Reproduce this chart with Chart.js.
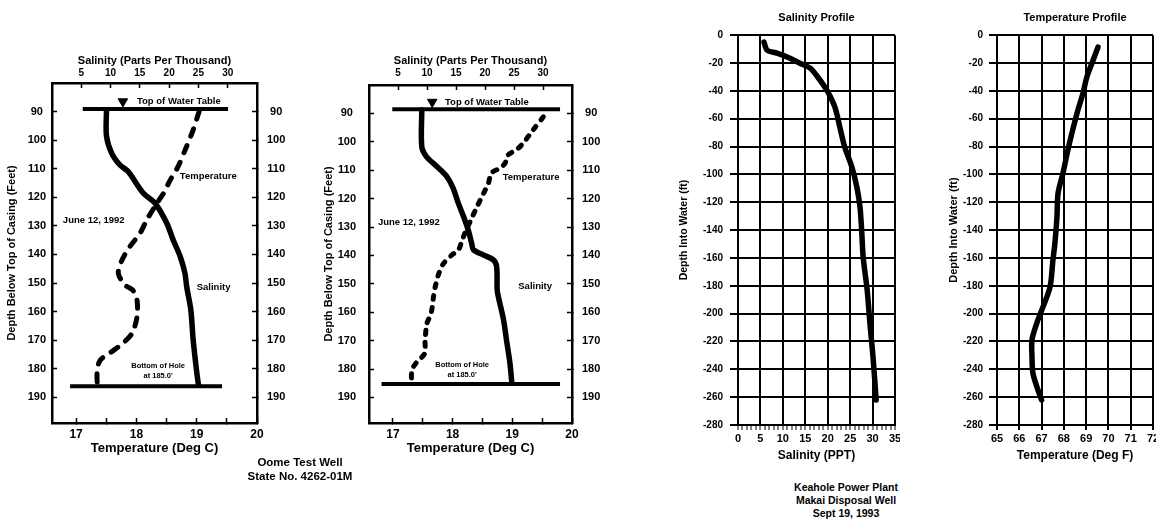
<!DOCTYPE html>
<html><head><meta charset="utf-8">
<script src="https://cdn.jsdelivr.net/npm/chart.js@4.4.1/dist/chart.umd.min.js"></script>
<style>
html,body{margin:0;padding:0;background:#fff;}
body{width:1156px;height:522px;overflow:hidden;position:relative;font-family:"Liberation Sans",Arial,sans-serif;}
canvas{position:absolute;}
.cap{position:absolute;font-weight:bold;color:#000;text-align:center;transform:translateX(-50%);white-space:nowrap;}
</style></head><body>
<canvas id="c1" width="300" height="430" style="left:0px;top:30px"></canvas>
<canvas id="c2" width="300" height="430" style="left:317px;top:30px"></canvas>
<canvas id="c3" width="240" height="475" style="left:660px;top:0px"></canvas>
<canvas id="c4" width="236" height="475" style="left:920px;top:0px"></canvas>
<div class="cap" style="left:300px;top:455px;font-size:11.5px;line-height:14px">Oome Test Well<br>State No. 4262-01M</div>
<div class="cap" style="left:846px;top:481px;font-size:10.5px;line-height:13px">Keahole Power Plant<br>Makai Disposal Well<br>Sept 19, 1993</div>
<script>
// ---------- tick labels ----------
const OOME_DEPTH_TICKS = [90, 100, 110, 120, 130, 140, 150, 160, 170, 180, 190];
const OOME_SAL_TICKS = [5, 10, 15, 20, 25, 30];
const OOME_TEMP_TICKS = [17, 17.5, 18, 18.5, 19, 19.5, 20];
const KEA_DEPTH_TICKS = [0, -20, -40, -60, -80, -100, -120, -140, -160, -180, -200, -220, -240, -260, -280];
const KEA_SAL_TICKS = Array.from({length: 36}, (_, i) => i);
const KEA_TEMP_TICKS = [65, 66, 67, 68, 69, 70, 71, 72];

// ---------- Oome Test Well, left profile ----------
const A_salDepth = [89.5, 98.5, 104.6, 108.7, 111.0, 118.6, 122.1, 129.1, 135.0, 140.8, 146.6, 151.3, 159.4, 169.9, 179.3, 185.7];
const A_sal      = [9.3, 9.3, 10.2, 11.6, 13.0, 15.6, 17.6, 19.6, 20.7, 21.9, 22.7, 23.0, 23.7, 24.1, 24.6, 25.0];
const A_tempDepth = [90.0, 96.5, 102.3, 109.3, 114.0, 118.6, 122.1, 128.0, 132.6, 137.3, 142.0, 146.6, 150.7, 152.5, 156.0, 161.8, 167.5, 171.0, 174.5, 177.0, 180.5, 185.7];
const A_temp      = [19.04, 18.94, 18.83, 18.69, 18.56, 18.45, 18.34, 18.17, 18.06, 17.89, 17.76, 17.70, 17.81, 17.94, 18.01, 18.01, 17.93, 17.78, 17.56, 17.40, 17.35, 17.35];
const A_waterTable = [89.1, 17.11, 19.52];   // depth, temp from, temp to
const A_holeBottom = [186.1, 16.90, 19.42];
const A_marker = [12.1, 86.5];               // salinity, depth

// ---------- Oome Test Well, right profile ----------
const B_salDepth = [88.8, 101.7, 105.2, 108.7, 112.2, 116.3, 121.6, 126.3, 131.0, 135.7, 138.0, 139.8, 141.5, 143.9, 152.1, 154.5, 162.7, 169.7, 177.9, 184.4];
const B_sal      = [9.1, 9.1, 9.9, 11.7, 13.4, 14.5, 15.4, 16.3, 17.1, 17.7, 18.0, 19.7, 21.4, 22.0, 22.1, 22.3, 23.2, 23.7, 24.3, 24.6];
const B_tempDepth = [91.2, 95.8, 100.5, 102.8, 104.6, 107.5, 109.3, 111.0, 114.6, 118.1, 122.8, 126.9, 130.5, 134.6, 138.0, 139.8, 142.8, 146.3, 151.0, 154.6, 160.4, 164.0, 169.9, 174.6, 177.5, 180.4, 184.5];
const B_temp      = [19.52, 19.35, 19.18, 19.07, 18.93, 18.88, 18.79, 18.65, 18.60, 18.52, 18.41, 18.32, 18.24, 18.16, 18.10, 17.99, 17.85, 17.77, 17.71, 17.68, 17.64, 17.57, 17.54, 17.53, 17.40, 17.32, 17.31];
const B_waterTable = [88.5, 16.99, 19.80];
const B_holeBottom = [185.3, 16.81, 19.80];
const B_marker = [10.9, 86.0];

// ---------- Keahole, salinity profile ----------
const K_salDepth = [-5.0, -10.8, -12.9, -16.5, -20.1, -23.7, -30.2, -39.5, -51.7, -66.0, -80.4, -94.8, -109.1, -123.5, -142.1, -159.4, -183.1, -206.7, -231.1, -262.0];
const K_sal      = [5.8, 6.5, 8.7, 11.6, 13.8, 16.1, 17.8, 19.8, 21.6, 22.7, 23.8, 25.4, 26.5, 27.2, 27.6, 27.9, 28.8, 29.4, 30.1, 30.8];
// ---------- Keahole, temperature profile ----------
const K_tempDepth = [-8.6, -20.1, -30.2, -41.6, -56.0, -70.4, -82.6, -99.1, -113.4, -130.7, -149.3, -161.5, -180.9, -195.3, -206.7, -218.9, -231.1, -242.6, -252.6, -262.0];
const K_temp      = [69.53, 69.26, 69.03, 68.86, 68.59, 68.36, 68.18, 67.96, 67.74, 67.69, 67.60, 67.51, 67.38, 67.06, 66.79, 66.57, 66.57, 66.61, 66.79, 67.00];

// ---------- helpers ----------
const FONT = '"Liberation Sans", Arial, Helvetica, sans-serif';
Chart.defaults.font.family = FONT;
Chart.defaults.font.weight = 'bold';
Chart.defaults.color = '#000';

const pts = (vals, depths) => vals.map((v, i) => ({x: v, y: depths[i]}));
const fixBox = (w, h) => s => {
  if (w != null) s.width = w;
  if (h != null) s.height = h;
  s.paddingLeft = s.paddingRight = s.paddingTop = s.paddingBottom = 0;
};
const useTicks = arr => s => { s.ticks = arr.map(v => ({value: v})); };
const bf = size => ({size: size, weight: 'bold', family: FONT});

function notesPlugin(items) {
  return {
    id: 'notes',
    afterDatasetsDraw(chart) {
      const ctx = chart.ctx;
      items.forEach(n => {
        const px = chart.scales[n.ax].getPixelForValue(n.x);
        const py = chart.scales.y.getPixelForValue(n.y);
        ctx.save();
        ctx.fillStyle = '#000';
        ctx.font = 'bold ' + n.size + 'px ' + FONT;
        ctx.textAlign = n.align || 'left';
        ctx.textBaseline = 'middle';
        ctx.fillText(n.text, px, py);
        ctx.restore();
      });
    }
  };
}

function oomeChart(id, d, g) {
  const lineDs = (data, ax, extra) => Object.assign({
    data: data, xAxisID: ax, yAxisID: 'y', showLine: true, pointRadius: 0,
    borderColor: '#000', backgroundColor: '#000', tension: 0.3,
    borderCapStyle: 'round', borderJoinStyle: 'round'
  }, extra || {});
  const inTicks = {drawOnChartArea: false, tickLength: -5, tickWidth: 1.5, tickColor: '#000', color: '#000'};
  const border = {width: 2.5, color: '#000'};
  const depthAxis = (pos, pad, w) => ({
    type: 'linear', position: pos, reverse: true, min: 80, max: 199,
    afterBuildTicks: useTicks(OOME_DEPTH_TICKS), afterFit: fixBox(w, null),
    ticks: {font: bf(11), padding: pad, crossAlign: 'center', autoSkip: false, color: '#000'},
    grid: inTicks, border: border
  });
  const yLeft = depthAxis('left', g.leftPad, g.left);
  yLeft.title = {display: true, text: 'Depth Below Top of Casing (Feet)', font: bf(11), color: '#000', padding: {top: g.yTitlePad, bottom: 0}};
  return new Chart(document.getElementById(id), {
    type: 'scatter',
    data: {datasets: [
      lineDs(pts(d.sal, d.salDepth), 'xs', {borderWidth: 5.5}),
      lineDs(pts(d.temp, d.tempDepth), 'xt', {borderWidth: 5, borderDash: d.dash, borderCapStyle: 'round'}),
      lineDs([{x: d.water[1], y: d.water[0]}, {x: d.water[2], y: d.water[0]}], 'xt', {borderWidth: 4, tension: 0, borderCapStyle: 'butt'}),
      lineDs([{x: d.hole[1], y: d.hole[0]}, {x: d.hole[2], y: d.hole[0]}], 'xt', {borderWidth: 4, tension: 0, borderCapStyle: 'butt'}),
      {data: [{x: d.marker[0], y: d.marker[1]}], xAxisID: 'xs', yAxisID: 'y', showLine: false,
       pointStyle: 'triangle', rotation: 180, pointRadius: 5.5, backgroundColor: '#000', borderColor: '#000', borderWidth: 1}
    ]},
    options: {
      responsive: false, animation: false, events: [],
      layout: {padding: 0},
      plugins: {legend: {display: false}, tooltip: {enabled: false}},
      scales: {
        xs: {
          type: 'linear', position: 'top', min: 0, max: 35,
          afterBuildTicks: useTicks(OOME_SAL_TICKS), afterFit: fixBox(null, g.top),
          ticks: {font: bf(10), padding: g.topPad, maxRotation: 0, minRotation: 0, autoSkip: false, color: '#000'},
          grid: inTicks, border: border,
          title: {display: true, text: 'Salinity (Parts Per Thousand)', font: bf(11), color: '#000', padding: {top: 24, bottom: 0}}
        },
        xt: {
          type: 'linear', position: 'bottom', min: 16.6, max: 20,
          afterBuildTicks: useTicks(OOME_TEMP_TICKS), afterFit: fixBox(null, 37),
          ticks: {font: bf(12), padding: 9, maxRotation: 0, minRotation: 0, autoSkip: false, color: '#000',
                  callback: v => Number.isInteger(v) ? String(v) : ''},
          grid: inTicks, border: border,
          title: {display: true, text: 'Temperature (Deg C)', font: bf(13), color: '#000', padding: {top: 0, bottom: 4}}
        },
        y: yLeft,
        y2: depthAxis('right', g.rightPad, g.right)
      }
    },
    plugins: [notesPlugin(d.notes)]
  });
}

oomeChart('c1', {
  sal: A_sal, salDepth: A_salDepth, temp: A_temp, tempDepth: A_tempDepth,
  water: A_waterTable, hole: A_holeBottom, marker: A_marker, dash: [8, 10],
  notes: [
    {text: 'Top of Water Table', ax: 'xs', x: 14.5, y: 86.3, size: 9.5},
    {text: 'Temperature', ax: 'xt', x: 18.72, y: 112.6, size: 9.5},
    {text: 'June 12, 1992', ax: 'xt', x: 16.78, y: 128.0, size: 9.5},
    {text: 'Salinity', ax: 'xt', x: 19.0, y: 151.5, size: 9.5},
    {text: 'Bottom of Hole', ax: 'xt', x: 18.36, y: 179.1, size: 7.5, align: 'center'},
    {text: "at 185.0'", ax: 'xt', x: 18.36, y: 182.6, size: 7.5, align: 'center'}
  ]
}, {left: 52, right: 43, top: 53, topPad: 9, leftPad: 11, rightPad: 15, yTitlePad: 5});

oomeChart('c2', {
  sal: B_sal, salDepth: B_salDepth, temp: B_temp, tempDepth: B_tempDepth,
  water: B_waterTable, hole: B_holeBottom, marker: B_marker, dash: [4, 8],
  notes: [
    {text: 'Top of Water Table', ax: 'xs', x: 13.1, y: 86.0, size: 9.5},
    {text: 'Temperature', ax: 'xt', x: 18.84, y: 112.4, size: 9.5},
    {text: 'June 12, 1992', ax: 'xt', x: 16.75, y: 128.2, size: 9.5},
    {text: 'Salinity', ax: 'xt', x: 19.1, y: 151.0, size: 9.5},
    {text: 'Bottom of Hole', ax: 'xt', x: 18.16, y: 178.6, size: 7.5, align: 'center'},
    {text: "at 185.0'", ax: 'xt', x: 18.16, y: 182.2, size: 7.5, align: 'center'}
  ]
}, {left: 52, right: 45, top: 55, topPad: 11, leftPad: 18, rightPad: 15, yTitlePad: 5});

function keaChart(id, o) {
  return new Chart(document.getElementById(id), {
    type: 'scatter',
    data: {datasets: [{
      data: pts(o.vals, o.depths), showLine: true, pointRadius: 0, borderColor: '#000',
      borderWidth: 5.5, tension: 0.3, borderCapStyle: 'round', borderJoinStyle: 'round'
    }]},
    options: {
      responsive: false, animation: false, events: [],
      layout: {padding: {right: o.padRight, left: 0, top: 0, bottom: 0}},
      plugins: {
        legend: {display: false}, tooltip: {enabled: false},
        title: {display: true, text: o.title, fullSize: false, font: bf(11), color: '#000', padding: {top: 11, bottom: 11}}
      },
      scales: {
        x: {
          type: 'linear', position: 'bottom', min: o.min, max: o.max,
          afterBuildTicks: useTicks(o.xTicks), afterFit: fixBox(null, 50),
          ticks: {font: bf(11), padding: 2, maxRotation: 0, minRotation: 0, autoSkip: false, color: '#000',
                  callback: v => (v % o.labelEvery === 0) ? String(v) : ''},
          grid: {color: '#000', lineWidth: c => (c.tick && c.tick.value % o.labelEvery === 0) ? 2 : 0,
                 tickLength: 5, tickWidth: o.labelEvery === 1 ? 2 : 1, tickColor: '#000'},
          border: {width: 2, color: '#000'},
          title: {display: true, text: o.xTitle, font: bf(12), color: '#000', padding: {top: 0, bottom: 12}}
        },
        y: {
          type: 'linear', position: 'left', min: -280, max: 0,
          afterBuildTicks: useTicks(KEA_DEPTH_TICKS), afterFit: fixBox(o.left, null),
          ticks: {font: bf(10), padding: o.yPad, autoSkip: false, color: '#000'},
          grid: {color: '#000', lineWidth: 2, tickLength: 8, tickWidth: 2, tickColor: '#000'},
          border: {width: 2, color: '#000'},
          title: {display: true, text: 'Depth Into Water (ft)', font: bf(o.yTitleSize), color: '#000', padding: {top: o.yTitlePad, bottom: 0}}
        }
      }
    }
  });
}

keaChart('c3', {vals: K_sal, depths: K_salDepth, title: 'Salinity Profile', xTitle: 'Salinity (PPT)',
  min: 0, max: 35, xTicks: KEA_SAL_TICKS, labelEvery: 5, left: 78, padRight: 5, yPad: 7, yTitlePad: 18, yTitleSize: 10.5});
keaChart('c4', {vals: K_temp, depths: K_tempDepth, title: 'Temperature Profile', xTitle: 'Temperature (Deg F)',
  min: 65, max: 72, xTicks: KEA_TEMP_TICKS, labelEvery: 1, left: 77, padRight: 3, yPad: 6, yTitlePad: 27, yTitleSize: 11});
</script>
</body></html>
